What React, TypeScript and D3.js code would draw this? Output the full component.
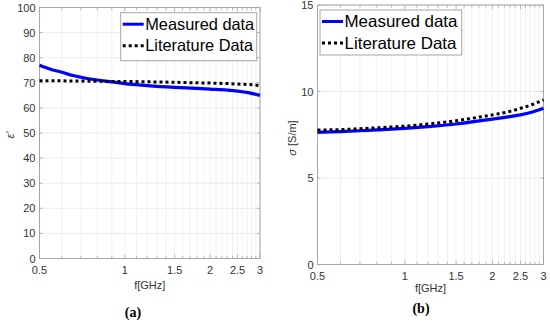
import React from "react";
import * as d3 from "d3";

// frequency grid (GHz) for both panels
const freqA = [0.5, 0.55, 0.6, 0.65, 0.7, 0.8, 0.9, 1, 1.2, 1.5, 1.8, 2, 2.3, 2.5, 2.75, 3];
const epsMeasured = [77, 75.3, 74.2, 73, 72.2, 71.1, 70.4, 69.7, 68.9, 68.2, 67.8, 67.5, 67.1, 66.7, 66, 65];
const epsLiterature = [70.8, 70.8, 70.8, 70.7, 70.7, 70.6, 70.5, 70.5, 70.4, 70.2, 70, 69.9, 69.7, 69.5, 69.3, 68.9];

const freqB = [0.5, 0.6, 0.7, 0.8, 0.9, 1, 1.2, 1.5, 1.8, 2, 2.3, 2.5, 2.75, 3];
const sigMeasured = [7.64, 7.68, 7.73, 7.78, 7.82, 7.87, 7.97, 8.12, 8.3, 8.4, 8.55, 8.65, 8.82, 9.03];
const sigLiterature = [7.77, 7.8, 7.85, 7.9, 7.95, 8.0, 8.12, 8.31, 8.52, 8.65, 8.85, 9.03, 9.25, 9.52];

const xTicks = [0.5, 1, 1.5, 2, 2.5, 3];
const xMinor = d3.range(5, 31).map((d) => d / 10);
const yTicksA = [0, 10, 20, 30, 40, 50, 60, 70, 80, 90, 100];
const yTicksB = [0, 5, 10, 15];
const legendLabels = ["Measured data", "Literature Data"];

const FONT = "Liberation Sans, Arial, sans-serif";
const AXIS = "#a6a6a6";
const TXT = "#333";

type PanelProps = {
  x0: number; x1: number; yTop: number; yBot: number;
  yMax: number; yTicks: number[];
  freq: number[]; meas: number[]; lit: number[];
  ylabel: React.ReactNode; ylabelX: number; ylabelY: number;
  xlabelY: number; caption: string; captionX: number; captionY: number;
  legend: { x: number; y: number; w: number; h: number; tw: number };
};

function Panel(p: PanelProps) {
  const x = d3.scaleLog().domain([0.5, 3]).range([p.x0, p.x1]);
  const y = d3.scaleLinear().domain([0, p.yMax]).range([p.yBot, p.yTop]);
  const line = d3.line<number>()
    .x((_, i) => x(p.freq[i]))
    .y((d) => y(d))
    .curve(d3.curveMonotoneX);
  const lg = p.legend;
  return (
    <g>
      {/* grid */}
      {xMinor.map((f) => (
        <line key={"g" + f} x1={x(f)} x2={x(f)} y1={p.yTop} y2={p.yBot} stroke="#ececec" strokeWidth={0.8} />
      ))}
      {p.yTicks.map((t) => (
        <line key={"h" + t} x1={p.x0} x2={p.x1} y1={y(t)} y2={y(t)} stroke="#e6e6e6" strokeWidth={0.8} />
      ))}
      {/* ticks */}
      {xMinor.map((f) => {
        const len = xTicks.includes(f) ? 4 : 2.5;
        return (
          <g key={"t" + f}>
            <line x1={x(f)} x2={x(f)} y1={p.yBot} y2={p.yBot - len} stroke={AXIS} strokeWidth={0.8} />
            <line x1={x(f)} x2={x(f)} y1={p.yTop} y2={p.yTop + len} stroke={AXIS} strokeWidth={0.8} />
          </g>
        );
      })}
      {p.yTicks.map((t) => (
        <g key={"yt" + t}>
          <line x1={p.x0} x2={p.x0 + 3} y1={y(t)} y2={y(t)} stroke={AXIS} strokeWidth={0.8} />
          <line x1={p.x1} x2={p.x1 - 3} y1={y(t)} y2={y(t)} stroke={AXIS} strokeWidth={0.8} />
          <text x={p.x0 - 4} y={y(t) + 4} textAnchor="end" fontSize={11} fill={TXT} fontFamily={FONT}>{t}</text>
        </g>
      ))}
      {xTicks.map((t) => (
        <text key={"xl" + t} x={x(t)} y={p.yBot + 15} textAnchor="middle" fontSize={11} fill={TXT} fontFamily={FONT}>{t}</text>
      ))}
      <rect x={p.x0} y={p.yTop} width={p.x1 - p.x0} height={p.yBot - p.yTop} fill="none" stroke={AXIS} strokeWidth={1} />
      {/* data */}
      <path d={line(p.meas) || ""} fill="none" stroke="#0000ff" strokeWidth={3.2} />
      <path d={line(p.lit) || ""} fill="none" stroke="#000" strokeWidth={3} strokeDasharray="3,3" />
      {/* legend */}
      <rect x={lg.x} y={lg.y} width={lg.w} height={lg.h} fill="#fff" stroke={AXIS} strokeWidth={1} />
      <line x1={lg.x + 2} x2={lg.x + 23} y1={lg.y + 11.5} y2={lg.y + 11.5} stroke="#0000ff" strokeWidth={3} />
      <line x1={lg.x + 2} x2={lg.x + 23} y1={lg.y + 33} y2={lg.y + 33} stroke="#000" strokeWidth={3} strokeDasharray="3,3" />
      <text x={lg.x + 24.5} y={lg.y + 17} fontSize={16.5} fontFamily={FONT} fill="#000"
        textLength={lg.tw} lengthAdjust="spacingAndGlyphs">{legendLabels[0]}</text>
      <text x={lg.x + 24.5} y={lg.y + 38.5} fontSize={16.5} fontFamily={FONT} fill="#000"
        textLength={lg.tw - 1} lengthAdjust="spacingAndGlyphs">{legendLabels[1]}</text>
      {/* labels */}
      <text x={(p.x0 + p.x1) / 2} y={p.xlabelY} textAnchor="middle" fontSize={11} fill={TXT} fontFamily={FONT}>f[GHz]</text>
      <text transform={`translate(${p.ylabelX},${p.ylabelY}) rotate(-90)`} textAnchor="middle" fontSize={11} fill={TXT} fontFamily={FONT}>{p.ylabel}</text>
      <text x={p.captionX} y={p.captionY} textAnchor="middle" fontSize={14} fontWeight="bold" fontFamily="Liberation Serif, Times New Roman, serif" fill="#000">{p.caption}</text>
    </g>
  );
}

export default function App() {
  return (
    <svg width={550} height={323} style={{ position: "absolute", left: 0, top: 0, background: "#fff" }}>
      <Panel
        x0={39.5} x1={260} yTop={7.5} yBot={258.5} yMax={100} yTicks={yTicksA}
        freq={freqA} meas={epsMeasured} lit={epsLiterature}
        ylabel={<tspan fontStyle="italic">ε'</tspan>} ylabelX={14} ylabelY={135}
        xlabelY={289} caption="(a)" captionX={133} captionY={317}
        legend={{ x: 120.7, y: 12.7, w: 136, h: 48, tw: 109 }}
      />
      <Panel
        x0={317.5} x1={543.5} yTop={5} yBot={264.5} yMax={15} yTicks={yTicksB}
        freq={freqB} meas={sigMeasured} lit={sigLiterature}
        ylabel={<><tspan fontStyle="italic">σ</tspan> [S/m]</>} ylabelX={296} ylabelY={138}
        xlabelY={292} caption="(b)" captionX={421} captionY={313}
        legend={{ x: 320, y: 10, w: 141.7, h: 45, tw: 113 }}
      />
    </svg>
  );
}
